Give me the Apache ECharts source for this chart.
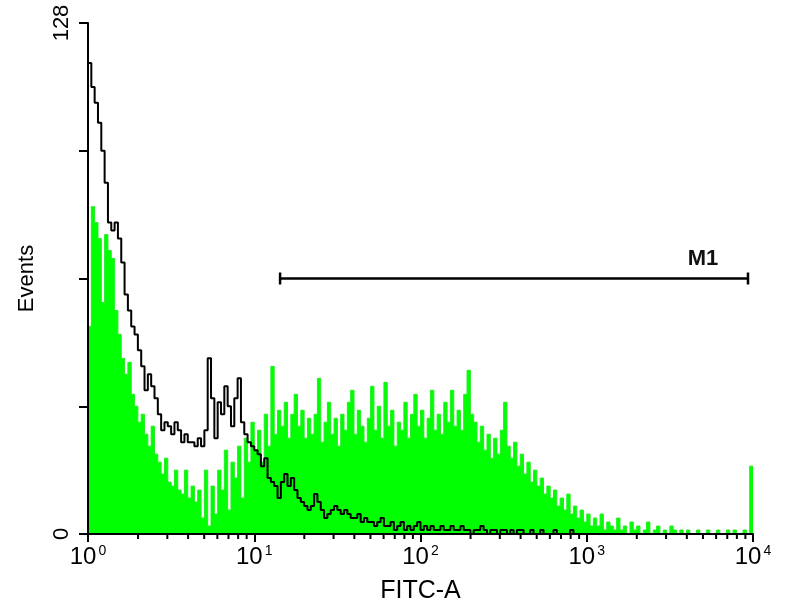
<!DOCTYPE html>
<html>
<head>
<meta charset="utf-8">
<script src="https://cdn.jsdelivr.net/npm/echarts@6/dist/echarts.min.js"></script>
<style>html,body{margin:0;padding:0;background:#fff}#c{width:800px;height:600px}</style>
</head>
<body>
<div id="c"></div>
<script>
// Histogram bins: 200 channels spanning log10(FITC-A) from 0 (10^0) to 4 (10^4)
const DECADES = [0, 1, 2, 3, 4];
const BIN_COUNT = 200;
const Y_TICKS = [0, 32, 64, 96, 128];
const Y_LABELS = ['0', '128'];

// Control (black outline) counts per channel
const controlCounts = [
118,112,108,103,96,88,78,76,78,74, 68,60,56,52,50,46,42,36,40,37,
34,30,26,28,27,25,28,26,23,25, 23,23,22,24,22,26,44,34,24,33,
30,37,32,27,34,39,28,25,23,22, 21,20,17,19,14,13,12,9,13,15,
12,14,11,9,8,7,6,7,10,8, 6,4,5,6,7,6,5,6,5,4,
4,5,3,4,3,3,2,3,4,2, 2,3,1,2,3,1,2,1,2,3,
1,2,1,2,1,1,2,1,1,2, 1,1,2,1,1,0,1,1,2,1,
0,1,1,0,1,1,0,1,0,1, 1,0,0,1,0,0,1,0,0,0,
1,0,0,0,0,1,0,0,0,0, 0,0,0,0,0,0,0,0,0,0,
0,0,0,0,0,0,0,0,0,0, 0,0,0,0,0,0,0,0,0,0,
0,0,0,0,0,0,0,0,0,0, 0,0,0,0,0,0,0,0,0,0
];

// Stained sample (green filled) counts per channel
const sampleCounts = [
52,82,78,74,58,75,71,69,56,50, 44,40,43,35,32,28,30,25,22,27,
20,18,15,19,13,12,16,11,10,16, 9,12,8,11,4,16,2,12,5,16,
11,21,6,18,14,22,9,24,18,28, 21,26,18,30,22,42,25,31,27,33,
24,30,35,27,31,24,29,25,30,39, 23,28,33,25,29,22,30,26,33,36,
25,31,27,23,29,37,26,32,24,38, 27,31,22,28,26,33,24,30,35,27,
31,24,29,36,26,30,25,33,28,36, 27,31,26,35,41,30,28,23,27,21,
25,19,24,20,26,33,22,19,23,17, 20,15,18,13,16,12,14,10,12,9,
11,7,9,6,10,5,7,4,6,3, 5,2,4,2,5,1,3,2,1,4,
1,2,0,3,1,2,0,1,3,0, 1,2,0,1,0,2,1,0,1,0,
1,0,0,1,0,0,1,0,0,1, 0,0,1,0,1,0,0,1,0,17
];

// M1 gate (FITC-A units) and its level on the Events axis
const M1_GATE = [14.3, 9330];
const M1_LEVEL = 64;

const binWidth = (DECADES[DECADES.length - 1] - DECADES[0]) / BIN_COUNT;
function toSteps(counts) {
  const pts = counts.map((v, i) => [DECADES[0] + i * binWidth, v]);
  pts.push([DECADES[DECADES.length - 1], counts[counts.length - 1]]);
  return pts;
}
// minor (2..9) tick positions of the log axis
const minorTicks = [];
DECADES.slice(0, -1).forEach(d => { for (let k = 2; k <= 9; k++) minorTicks.push(d + Math.log10(k)); });

const FONT = 'Liberation Sans';
const chart = echarts.init(document.getElementById('c'));
chart.setOption({
  animation: false,
  backgroundColor: '#fff',
  grid: { left: 88, right: 47, top: 23, bottom: 66, outerBoundsMode: 'none', containLabel: false },
  xAxis: {
    type: 'value', min: DECADES[0], max: DECADES[DECADES.length - 1], interval: 1,
    name: 'FITC-A', nameLocation: 'middle', nameGap: 45,
    nameTextStyle: { fontFamily: FONT, fontSize: 25, color: '#000' },
    axisLine: { lineStyle: { color: '#000', width: 2 } },
    axisTick: { length: 8, lineStyle: { color: '#000', width: 2 } },
    splitLine: { show: false },
    axisLabel: {
      margin: 10, showMinLabel: true, showMaxLabel: true,
      formatter: v => '{b|10}{s|' + v + '}',
      rich: {
        b: { fontFamily: FONT, fontSize: 24, color: '#000', lineHeight: 26 },
        s: { fontFamily: FONT, fontSize: 14, color: '#000', verticalAlign: 'top', lineHeight: 26, padding: [0, 0, 10, 2] }
      }
    },
    z: 5
  },
  yAxis: {
    type: 'value', min: Y_TICKS[0], max: Y_TICKS[Y_TICKS.length - 1], interval: 32,
    name: 'Events', nameLocation: 'middle', nameGap: 50, nameRotate: 90,
    nameTextStyle: { fontFamily: FONT, fontSize: 22, color: '#000' },
    axisLine: { show: true, lineStyle: { color: '#000', width: 2 } },
    axisTick: { show: true, length: 9, lineStyle: { color: '#000', width: 2 } },
    splitLine: { show: false },
    axisLabel: {
      rotate: 90, margin: 15, align: 'center', verticalAlign: 'bottom',
      fontFamily: FONT, fontSize: 22, color: '#000',
      formatter: v => (Y_LABELS.indexOf(String(v)) >= 0 ? String(v) : '')
    },
    z: 5
  },
  series: [{
    name: 'Sample', type: 'line', step: 'end', data: toSteps(sampleCounts),
    symbol: 'none', lineStyle: { color: '#22ee22', width: 1 },
    areaStyle: { color: '#00ff00', opacity: 1 }, z: 2
  }, {
    name: 'Control', type: 'line', step: 'end', data: toSteps(controlCounts),
    symbol: 'none', lineStyle: { color: '#000', width: 2 }, z: 3
  }, {
    name: 'M1', type: 'line',
    data: M1_GATE.map(g => [Math.log10(g), M1_LEVEL]),
    symbol: 'rect', symbolSize: [2.5, 12], itemStyle: { color: '#000' },
    lineStyle: { color: '#000', width: 2.5 }, z: 4,
    label: {
      show: true, position: 'top', distance: 3, offset: [-45, 0],
      fontFamily: FONT, fontSize: 22, fontWeight: 'bold', color: '#111',
      formatter: p => (p.dataIndex === 1 ? 'M1' : '')
    }
  }, {
    name: 'minorTicks', type: 'custom', clip: false, silent: true, z: 6,
    data: minorTicks.map(v => [v, 0]),
    renderItem: (params, api) => {
      const p = api.coord([api.value(0), 0]);
      return { type: 'line', shape: { x1: p[0], y1: p[1], x2: p[0], y2: p[1] + 5 },
               style: { stroke: '#000', lineWidth: 2 } };
    }
  }]
});
</script>
</body>
</html>
